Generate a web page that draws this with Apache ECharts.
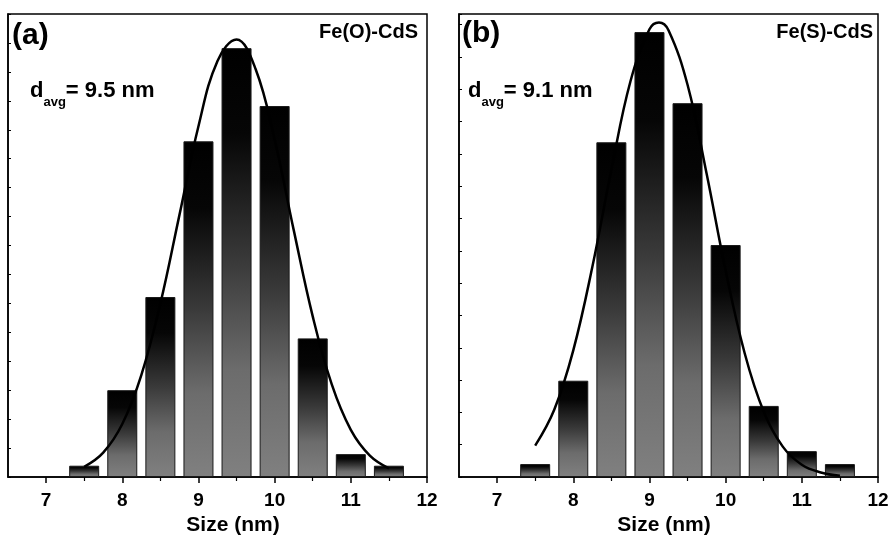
<!DOCTYPE html>
<html><head><meta charset="utf-8">
<script src="https://cdn.jsdelivr.net/npm/echarts@6/dist/echarts.min.js"></script>
<style>html,body{margin:0;padding:0;background:#fff}#c{width:893px;height:537px}</style>
</head><body><div id="c"></div>
<script>
// ---- data ----
const binCenters = [7.5, 8, 8.5, 9, 9.5, 10, 10.5, 11, 11.5];
const countsA = [0.39, 3.0, 6.22, 11.6, 14.82, 12.82, 4.79, 0.79, 0.39];
const countsB = [0.40, 2.98, 10.36, 13.77, 11.57, 7.18, 2.20, 0.80, 0.40];
const fitXA = [7.5, 7.75, 8, 8.25, 8.5, 8.75, 9, 9.25, 9.5, 9.75, 10, 10.25, 10.5, 10.75, 11, 11.25, 11.5];
const fitYA = [0.35, 0.84, 1.83, 3.52, 5.99, 9.05, 12.12, 14.38, 15.12, 14.10, 11.66, 8.54, 5.55, 3.20, 1.63, 0.74, 0.30];
const fitXB = [7.5, 7.75, 8, 8.25, 8.5, 8.75, 9, 9.125, 9.25, 9.5, 9.75, 10, 10.25, 10.5, 10.75, 11, 11.25, 11.5];
const fitYB = [0.97, 2.08, 3.92, 6.50, 9.51, 12.24, 13.86, 14.07, 13.83, 12.14, 9.39, 6.39, 3.83, 2.02, 0.94, 0.38, 0.14, 0.04];
const xMajorTicks = [7, 8, 9, 10, 11, 12];
const xMinorTicks = [7.5, 8.5, 9.5, 10.5, 11.5];
const yMaxA = 16, yMaxB = 14.33;
const panelLabels = ['(a)', '(b)'];
const sampleNames = ['Fe(O)-CdS', 'Fe(S)-CdS'];
const avgSizes = ['9.5', '9.1'];
const xTitle = 'Size (nm)';

// ---- chart ----
const FONT = '"Liberation Sans", Arial, sans-serif';
const chart = echarts.init(document.getElementById('c'));
const grids = [
  {left: 8, right: 466, top: 14, bottom: 60},
  {left: 459, right: 15, top: 14, bottom: 60}
];
const barFill = new echarts.graphic.LinearGradient(0, 0, 0, 1, [
  {offset: 0, color: '#000000'},
  {offset: 0.2, color: '#060606'},
  {offset: 0.5, color: '#3a3a3a'},
  {offset: 0.75, color: '#6c6c6c'},
  {offset: 1, color: '#808080'}
]);
const xAxes = [], yAxes = [], series = [];
const counts = [countsA, countsB];
const fitX = [fitXA, fitXB], fitY = [fitYA, fitYB];
const yMax = [yMaxA, yMaxB];
const namePad = [[0, 0, 0, 31], [0, 9, 0, 0]];
for (let i = 0; i < 2; i++) {
  xAxes.push({
    gridIndex: i, type: 'value', min: 6.5, max: 12, position: 'bottom',
    axisLine: {show: true, onZero: false, lineStyle: {color: '#000', width: 1.5}},
    axisTick: {show: true, customValues: xMajorTicks, length: 6, lineStyle: {color: '#000', width: 1.5}},
    axisLabel: {show: true, customValues: xMajorTicks, color: '#000', fontSize: 19, fontWeight: 'bold', fontFamily: FONT, margin: 14},
    splitLine: {show: false},
    name: xTitle, nameLocation: 'middle', nameGap: 38,
    nameTextStyle: {color: '#000', fontSize: 21, fontWeight: 'bold', fontFamily: FONT, padding: namePad[i]}
  });
  xAxes.push({
    gridIndex: i, type: 'value', min: 6.5, max: 12, position: 'bottom',
    axisLine: {show: false},
    axisTick: {show: true, customValues: xMinorTicks, length: 4, lineStyle: {color: '#000', width: 1.2}},
    axisLabel: {show: false},
    splitLine: {show: false}
  });
  yAxes.push({
    gridIndex: i, type: 'value', min: 0, max: yMax[i], interval: 1,
    axisLine: {show: true, onZero: false, lineStyle: {color: '#000', width: 1.5}},
    axisTick: {show: true, inside: true, length: 3, lineStyle: {color: '#000', width: 1}},
    axisLabel: {show: false},
    splitLine: {show: false}
  });
  series.push({
    type: 'bar', xAxisIndex: 2 * i, yAxisIndex: i,
    data: binCenters.map((x, k) => [x, counts[i][k]]),
    barWidth: 30,
    itemStyle: {color: barFill, borderColor: '#1a1a1a', borderWidth: 1},
    emphasis: {disabled: true}, silent: true, z: 2
  });
  series.push({
    type: 'line', xAxisIndex: 2 * i, yAxisIndex: i,
    data: fitX[i].map((x, k) => [x, fitY[i][k]]),
    smooth: 0.4, showSymbol: false, symbol: 'none',
    lineStyle: {color: '#000', width: 2.5},
    silent: true, z: 5
  });
}
const graphics = [];
const labelPos = [{x: 12, y: 36}, {x: 462, y: 34}];
const namePos = [{x: 418, y: 32}, {x: 873, y: 32.5}];
const avgPos = [{x: 30, y: 91}, {x: 468, y: 91}];
for (let i = 0; i < 2; i++) {
  graphics.push({type: 'text', x: labelPos[i].x, y: labelPos[i].y, z: 10,
    style: {text: panelLabels[i], font: 'bold 30px ' + FONT, fill: '#000', textVerticalAlign: 'middle'}});
  graphics.push({type: 'text', x: namePos[i].x, y: namePos[i].y, z: 10,
    style: {text: sampleNames[i], font: 'bold 20px ' + FONT, fill: '#000', textAlign: 'right', textVerticalAlign: 'middle'}});
  graphics.push({type: 'text', x: avgPos[i].x, y: avgPos[i].y, z: 10,
    style: {
      text: '{m|d}{s|avg}{m|= ' + avgSizes[i] + ' nm}',
      textVerticalAlign: 'middle',
      rich: {
        m: {fontSize: 22, fontWeight: 'bold', fontFamily: FONT, fill: '#000', lineHeight: 26},
        s: {fontSize: 13, fontWeight: 'bold', fontFamily: FONT, fill: '#000', lineHeight: 13, padding: [22, 0, 0, 0]}
      }
    }});
}
chart.setOption({
  animation: false,
  backgroundColor: '#fff',
  grid: grids.map(g => Object.assign({show: true, borderColor: '#000', borderWidth: 1.5, backgroundColor: 'transparent', containLabel: false, outerBoundsMode: 'none'}, g)),
  xAxis: xAxes,
  yAxis: yAxes,
  series: series,
  graphic: graphics
});
</script>
</body></html>
